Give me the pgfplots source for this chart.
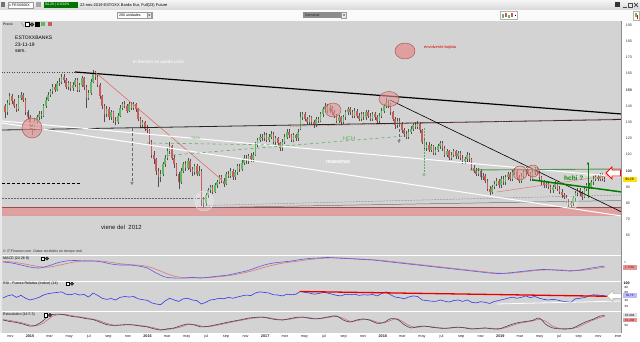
\documentclass[border=0pt]{standalone}
\usepackage{pgfplots}
\pgfplotsset{compat=1.18}
\usepackage{pgfplotstable}
\usepackage{fontspec}
\setmainfont{Liberation Sans}
\usetikzlibrary{arrows.meta}
\definecolor{panelbg}{RGB}{211,211,211}
\definecolor{upc}{RGB}{98,184,98}
\definecolor{dnc}{RGB}{200,92,92}
\definecolor{wick}{RGB}{80,80,80}
\definecolor{pinkband}{RGB}{222,160,160}
\definecolor{pinkc}{RGB}{226,150,150}
\definecolor{tgreen}{RGB}{90,175,90}
\definecolor{dgreen}{RGB}{0,125,0}
\definecolor{macdblue}{RGB}{90,90,230}
\definecolor{macdred}{RGB}{220,120,120}
\definecolor{rsiblue}{RGB}{55,55,235}
\definecolor{stk}{RGB}{70,60,100}
\definecolor{std}{RGB}{215,110,110}
\definecolor{redln}{RGB}{225,110,110}
\newcommand\PX[2]{(axis cs:{(#1-30)/2.2537},{190-(#2-25)/1.62})}
\newcommand\RX[2]{(axis cs:{(#1-30)/2.2537},{(311-#2)*100/29})}
\newcommand\fs[1]{\fontsize{#1}{#1}\selectfont}
\pgfplotstableread{
w o h l c
-11 140 141.5 132.5 136
-10 136 143.5 134.5 142
-9 142 148 140.5 146
-8 146 147.5 141.5 143
-7 143 144.5 138.5 140
-6 140 141.5 136 138
-5 138 146.5 137 145
-4 145 148.5 143.5 147
-3 147 148 142.5 144
-2 144 145 134.5 136
-1 136 137.5 131.5 133
0 133 134.5 126 128
1 128 129.5 122 126
2 126 132.5 124.5 131
3 131 134.5 129 133
4 133 137 131.5 135
5 135 137 132 134
6 134 141.5 133 140
7 140 145.5 139 144
8 144 148.5 143 147
9 147 150.5 145.5 149
10 149 153.5 147.5 152
11 152 153.5 148.5 150
12 150 155.5 149 154
13 154 157 152.5 155
14 155 160 153.5 158
15 158 159.5 154 156
16 156 157 150.5 152
17 152 155.5 150 154
18 154 155 149 151
19 151 155 149.5 153
20 153 157.5 152 156
21 156 157 148.5 150
22 150 154.5 148.5 153
23 153 158.5 152 157
24 157 158 150 152
25 152 153 139 145
26 145 150 143.5 148
27 148 156.5 147 155
28 155 162 154 160
29 160 161.5 156 158
30 158 159 151.5 153
31 153 154 144.5 146
32 146 147 138 140
33 140 141.5 130 135
34 135 140 133.5 138
35 138 139.5 131.5 133
36 133 137.5 131.5 136
37 136 137 129.5 131
38 131 133 128 130
39 130 135.5 129 134
40 134 140.5 133 139
41 139 142.5 137.5 141
42 141 143 138.5 140
43 140 141.5 135.5 137
44 137 142.5 136 141
45 141 142.5 137.5 139
46 139 142.5 137.5 141
47 141 142 136.5 138
48 138 139 130.5 132
49 132 133 126.5 128
50 128 131.5 126.5 130
51 130 131 124.5 126
52 126 128 123.5 125
53 125 126 116.5 118
54 118 119 108 110
55 110 112 104 107
56 107 108 97.5 100
57 100 101.5 90 96
58 96 100.5 93 98
59 98 105.5 96.5 104
60 104 109.5 102.5 108
61 108 114 106.5 112
62 112 118 110.5 115
63 115 116 106.5 108
64 108 109.5 102 104
65 104 105 96.5 98
66 98 99.5 89 93
67 93 101.5 92 100
68 100 105.5 98.5 104
69 104 106 100 102
70 102 108 100.5 106
71 106 107 99.5 101
72 101 102.5 97 99
73 99 104.5 97.5 103
74 103 104 96.5 98
75 98 103 96.5 100
76 100 101 78 82
77 82 84 77 80
78 80 86.5 78.5 85
79 85 89.5 83.5 88
80 88 91.5 86.5 90
81 90 91 85.5 87
82 87 92.5 86 91
83 91 94.5 89.5 93
84 93 97.5 92 96
85 96 97.5 92.5 94
86 94 95.5 90 92
87 92 99.5 91 98
88 98 100 95.5 97
89 97 101.5 95.5 100
90 100 101 94.5 96
91 96 100.5 94.5 99
92 99 104.5 97.5 103
93 103 104.5 99.5 101
94 101 106.5 100 105
95 105 109.5 103.5 108
96 108 109.5 104.5 106
97 106 110.5 104.5 109
98 109 111 105.5 107
99 107 111.5 105.5 110
100 110 117.5 109 116
101 116 120.5 114.5 119
102 119 122.5 117.5 121
103 121 123 118.5 120
104 120 124 118.5 122
105 122 123.5 117.5 119
106 119 122.5 117.5 121
107 121 124.5 119.5 123
108 123 124 116.5 118
109 118 121.5 116 120
110 120 121 115.5 117
111 117 118 112 114
112 114 119.5 112.5 118
113 118 122.5 116.5 121
114 121 125.5 119.5 124
115 124 125.5 120.5 122
116 122 123 117.5 119
117 119 123.5 117.5 122
118 122 123 118.5 120
119 120 125.5 118.5 124
120 126 136 125 133
121 133 136.5 131.5 135
122 135 136 130.5 132
123 132 133.5 128.5 130
124 130 134.5 128.5 133
125 133 134 128.5 130
126 130 131.5 126.5 128
127 128 133.5 127 132
128 132 133.5 129.5 131
129 131 136.5 130 135
130 135 139.5 133.5 138
131 138 142 136.5 140
132 140 141 135.5 137
133 137 140.5 135.5 139
134 139 140 134.5 136
135 136 137.5 132.5 134
136 134 135 129.5 131
137 131 134.5 129.5 133
138 133 134 128 130
139 130 134.5 129 133
140 133 137.5 131.5 136
141 136 139.5 134.5 138
142 138 139.5 134.5 136
143 136 137.5 132.5 134
144 134 138.5 132.5 137
145 137 138 132.5 134
146 134 135.5 130.5 132
147 132 136.5 130.5 135
148 135 136.5 131.5 133
149 133 137.5 131.5 136
150 136 137.5 132.5 134
151 134 135.5 130.5 132
152 132 136.5 130.5 135
153 135 136.5 131.5 133
154 133 134.5 129 131
155 131 135.5 129.5 134
156 134 138.5 132.5 137
157 137 141.5 135.5 140
158 140 145 138.5 142
159 142 144 139 141
160 141 142 134.5 136
161 136 137 130.5 132
162 132 133 126 128
163 128 132.5 126.5 131
164 131 132.5 127.5 129
165 129 130 123.5 125
166 125 126.5 121 123
167 123 124.5 119.5 121
168 121 125.5 119.5 124
169 124 127.5 122.5 126
170 126 129.5 124.5 128
171 128 130 125.5 127
172 127 130.5 125.5 129
173 129 130 123.5 125
174 125 126 116.5 118
175 118 119.5 112 114
176 114 118 112.5 116
177 116 117.5 111.5 113
178 113 116.5 111.5 115
179 115 116 109.5 111
180 111 114.5 109.5 113
181 113 116.5 111.5 115
182 115 118.5 113.5 117
183 117 118.5 112.5 114
184 114 115 108.5 110
185 110 113.5 108.5 112
186 112 113 106.5 108
187 108 111.5 106.5 110
188 110 113.5 108.5 112
189 112 113 107.5 109
190 109 112.5 107.5 111
191 111 112 106.5 108
192 108 109.5 104.5 106
193 106 108.5 104.5 107
194 107 111.5 105.5 110
195 110 111 105.5 107
196 107 108 100.5 102
197 102 103.5 98.5 100
198 100 101.5 96.5 98
199 98 101.5 96.5 100
200 100 101 94.5 96
201 96 98.5 94.5 97
202 97 98 92.5 94
203 94 95 87.5 89
204 89 90.5 85 87
205 87 91.5 85.5 90
206 90 93.5 88.5 92
207 92 95.5 90.5 94
208 94 95 89.5 91
209 91 96.5 89.5 95
210 95 96.5 91.5 93
211 93 97.5 91.5 96
212 96 99.5 94.5 98
213 98 99 93.5 95
214 95 100.5 93.5 99
215 99 101.5 97.5 100
216 100 101 94.5 96
217 96 97.5 92.5 94
218 94 98.5 92.5 97
219 97 100.5 95.5 99
220 99 102.5 97.5 101
221 101 102 96.5 98
222 98 99 93.5 95
223 95 100.5 93.5 99
224 99 102.5 97.5 101
225 101 102.5 97.5 99
226 99 100 94.5 96
227 96 97 91.5 93
228 93 94.5 89.5 91
229 91 93.5 89.5 92
230 92 93.5 88.5 90
231 90 91.5 86.5 88
232 88 91.5 86.5 90
233 90 93.5 88.5 92
234 92 93 87.5 89
235 89 90.5 85.5 87
236 87 88.5 83.5 85
237 85 86.5 82.5 84
238 84 85 79.5 81
239 81 82.5 77 79
240 79 81.5 77.5 80
241 80 84.5 78.5 83
242 83 87.5 81.5 86
243 86 89.5 84.5 88
244 88 89.5 84.5 86
245 86 87.5 82 84
246 84 90.5 83 89
247 89 92.5 87.5 91
248 91 92.5 88.5 90
249 90 94.5 88.5 93
250 93 96.5 91.5 95
251 95 97.5 93.5 96
252 96 97.5 93.5 95
253 95 98.5 93.5 97
254 97 98.5 93.5 95
255 95 96 93.2 94.28
}\candles
\pgfplotstableread{
w m s
-12 4.8 5.2
-8 4.2 4.8
-4 3.0 4.0
0 1.8 3.0
4 1.2 2.0
8 2.4 1.7
12 4.2 2.6
16 5.4 3.8
20 5.7 4.9
24 5.4 5.4
28 5.4 5.5
32 4.8 5.3
36 3.6 4.6
40 3.0 3.8
44 3.0 3.3
48 2.4 2.9
52 1.2 2.2
56 -1.8 0.4
60 -4.2 -1.8
64 -4.8 -3.7
68 -4.9 -4.5
72 -4.5 -4.7
76 -4.8 -4.6
80 -4.2 -4.5
84 -3.6 -4.0
88 -3.0 -3.4
92 -1.8 -2.5
96 -0.6 -1.4
100 1.2 0.0
104 3.0 1.6
108 4.2 3.0
112 4.8 4.1
116 5.4 4.8
120 6.3 5.5
124 6.9 6.3
128 7.2 6.8
132 7.5 7.2
136 7.2 7.3
140 6.9 7.1
144 6.6 6.8
148 6.3 6.5
152 6.0 6.2
156 5.4 5.8
160 4.8 5.2
164 4.2 4.6
168 3.6 4.0
172 3.0 3.4
176 2.4 2.8
180 1.8 2.2
184 1.2 1.6
188 0.6 1.0
192 0.0 0.4
196 -0.6 -0.2
200 -1.2 -0.8
204 -1.8 -1.4
208 -2.1 -1.9
212 -1.8 -2.0
216 -1.2 -1.6
220 -0.6 -1.0
224 0.0 -0.4
228 0.3 0.0
232 0.0 0.2
236 -0.3 0.0
240 -0.6 -0.3
244 0.0 -0.3
248 0.9 0.3
252 1.8 1.1
255 2.4 1.6
}\macd
\pgfplotstableread{
w r
-12 45
-10 52
-8 56
-6 47
-4 54
-2 44
0 38
2 42
4 47
6 55
8 60
10 62
12 64
14 66
16 58
18 56
20 60
22 55
24 57
26 48
28 62
30 54
32 44
34 40
36 43
38 38
40 47
42 50
44 48
46 50
48 42
50 39
52 37
54 28
56 24
58 22
60 35
62 44
64 38
66 33
68 42
70 44
72 38
74 36
76 24
78 30
80 38
82 40
84 44
86 42
88 47
90 44
92 48
94 52
96 55
98 53
100 62
102 66
104 64
106 62
108 56
110 55
112 52
114 58
116 56
118 58
120 68
122 64
124 62
126 58
128 60
130 64
132 62
134 58
136 54
138 52
140 58
142 56
144 58
146 54
148 56
150 55
152 57
154 52
156 60
158 66
160 56
162 48
164 46
166 42
168 48
170 52
172 50
174 38
176 36
178 34
180 33
182 38
184 34
186 31
188 36
190 38
192 33
194 38
196 30
198 28
200 32
202 30
204 26
206 33
208 36
210 40
212 44
214 48
216 44
218 47
220 52
222 46
224 50
226 44
228 40
230 38
232 40
234 38
236 34
238 32
240 30
242 42
244 44
246 46
248 52
250 56
252 55
254 53
255 54
}\rsi
\pgfplotstableread{
w k d
-12 62 64
-9 55 60
-6 50 54
-3 42 47
0 33 38
2 35 34
4 45 38
6 60 48
8 80 64
10 88 80
13 90 88
16 85 88
19 78 82
22 75 77
25 68 72
28 64 66
31 52 58
34 40 46
37 36 38
40 38 37
43 40 39
46 38 39
49 33 36
52 29 31
55 20 25
58 14 17
61 20 17
64 24 22
67 35 29
70 43 40
73 38 41
76 29 33
79 32 30
82 38 35
85 45 41
88 52 48
91 58 55
94 64 61
97 71 67
100 74 72
103 76 75
106 70 73
109 64 67
112 62 63
115 68 65
118 74 71
121 76 75
124 70 73
127 67 68
130 72 70
133 78 75
136 81 79
139 62 70
142 52 56
145 62 58
148 67 65
151 60 63
154 46 52
157 50 48
160 68 60
163 65 68
166 40 50
169 24 32
172 30 27
175 33 32
178 28 30
181 24 26
184 22 23
187 25 24
190 28 27
193 24 26
196 19 21
199 22 20
202 24 23
205 20 22
208 19 20
211 30 25
214 42 36
217 50 46
220 55 52
223 60 57
226 71 65
229 40 55
232 24 32
235 20 22
238 19 20
241 24 22
244 40 32
247 55 48
250 66 62
253 81 74
255 82 81
}\stoch
\pgfplotsset{panel/.style={anchor=south west, scale only axis, width=619.7bp,
  xmin=-12.42, xmax=262.55, axis background/.style={fill=panelbg},
  axis line style={draw=none}, xtick=\empty, ytick=\empty, tick style={draw=none}}}
\begin{document}
\begin{tikzpicture}
\useasboundingbox (0,0) rectangle (640bp,342bp);
% ---------- window chrome
\begin{scope}[x=1bp,y=-1bp,yshift=342bp]
\fill[white] (0,0) rectangle (640,342);
\shade[top color=black!4, bottom color=black!16] (0,0) rectangle (640,10.5);
\fill[black!2] (0,10.5) rectangle (640,21);
\fill[black!9] (0,21) rectangle (2,333);
\fill[black!55] (1.5,2.5) rectangle (5.5,7.5);
\draw[black!40, fill=white, line width=0.3bp] (8,2) rectangle (33,8);
\node[anchor=west, inner sep=0, font=\fs{3.6}] at (9,5) {x FESX600X};
\fill[black!35] (36,2.5) rectangle (41,7.5);
\fill[green!45!black] (44,2) rectangle (78,8);
\node[anchor=west, inner sep=0, font=\fs{3.6}, text=white] at (45,5) {94.28 | 0.034\%};
\node[anchor=west, inner sep=0, font=\fs{4}] at (80,5) {22-nov-2019 ESTOXX Banks Eur, Full(23) Future};
\fill[black!80] (614.5,2.5) rectangle (620,7.5);
\draw[black!70, line width=0.6bp] (623,7) -- (626.5,7);
\draw[black!70, line width=0.5bp] (628.5,3) rectangle (632,7);
\draw[black!80, line width=0.7bp] (634,3) -- (638,7) (634,7) -- (638,3);
\draw[black!40, fill=white, line width=0.3bp] (117,12) rectangle (152,18.5);
\node[anchor=west, inner sep=0, font=\fs{3.6}] at (119,15.3) {200 unidades};
\draw[black!40, fill=black!8, line width=0.3bp] (147,12.6) rectangle (151.5,18);
\fill[black!60] (148,14.5) -- (150.5,14.5) -- (149.25,16.3) -- cycle;
\fill[black!45] (303,12) rectangle (347,18.5);
\node[anchor=west, inner sep=0, font=\fs{3.6}, text=black!85] at (305,15.3) {Semanal};
\draw[black!40, fill=black!8, line width=0.3bp] (341.5,12.6) rectangle (346.5,18);
\fill[black!60] (342.8,14.5) -- (345.3,14.5) -- (344.05,16.3) -- cycle;
\draw[black!30, fill=white, line width=0.3bp] (500,11.5) rectangle (517,19.5);
\fill[upc] (502,14) rectangle (503.5,18);
\fill[dnc] (505,13) rectangle (506.5,17);
\fill[upc] (508,15) rectangle (509.5,18.5);
\fill[dnc] (511,13.5) rectangle (512.5,17.5);
\fill[black] (514.5,15) rectangle (515.5,16);
\draw[black!30, fill=white, line width=0.3bp] (633,11) rectangle (639.5,20);
\fill[upc] (635,13) rectangle (636.5,17);
\fill[red] (637,15) rectangle (638.3,19);
\end{scope}
% ---------- main price panel
\begin{axis}[panel, at={(2bp,87bp)}, height=234bp, ymin=48.02, ymax=192.47,
  ytick={60,70,80,90,100,110,120,130,140,150,160,170,180,190},
  yticklabels={60,70,80,90,\textbf{100},110,120,130,140,\textbf{150},160,170,180,190},
  yticklabel pos=right,
  yticklabel style={font=\fs{3.6}, inner sep=0.5bp, xshift=3.5bp, text=black!80}]
\fill[pinkband] \PX{2}{207} rectangle \PX{621.7}{215.5};
\draw[dnc!80!black, line width=0.5bp] \PX{2}{207.3} -- \PX{621.7}{207.3};
\draw[dnc!60, line width=0.4bp] \PX{2}{215.3} -- \PX{621.7}{215.3};
\draw[black!70, dotted, line width=0.5bp] \PX{2}{72.5} -- \PX{77}{72.5};
\draw[black, densely dashed, line width=0.5bp] \PX{2}{183} -- \PX{80}{183};
\draw[black!60, densely dotted, line width=0.5bp] \PX{2}{198} -- \PX{205}{198};
\draw[black!60, densely dotted, line width=0.5bp] \PX{205}{205.5} -- \PX{621.7}{195};
\draw[black!55, line width=0.5bp] \PX{205}{207.6} -- \PX{621.7}{200.5};
\addplot[wick, forget plot, draw=none, mark=none,
  error bars/.cd, y dir=plus, y explicit, error mark=none,
  error bar style={draw=wick, line width=0.45bp, solid}]
  table[x=w, y=l, y error expr={\thisrow{h}-\thisrow{l}}] {\candles};
\addplot[upc, forget plot, draw=none, mark=none,
  restrict expr to domain={\thisrow{c}-\thisrow{o}}{0:1000},
  error bars/.cd, y dir=plus, y explicit, error mark=none,
  error bar style={draw=upc, line width=1.5bp, solid}]
  table[x=w, y=o, y error expr={\thisrow{c}-\thisrow{o}}] {\candles};
\addplot[dnc, forget plot, draw=none, mark=none,
  restrict expr to domain={\thisrow{o}-\thisrow{c}}{0.001:1000},
  error bars/.cd, y dir=plus, y explicit, error mark=none,
  error bar style={draw=dnc, line width=1.5bp, solid}]
  table[x=w, y=c, y error expr={\thisrow{o}-\thisrow{c}}] {\candles};
% trend lines
\draw[black, line width=1.2bp] \PX{75}{72} -- \PX{621.7}{114};
\draw[redln, line width=0.6bp] \PX{95}{72} -- \PX{222}{180};
\draw[black!85, line width=0.8bp] \PX{2}{130} -- \PX{621.7}{119.5};
\draw[dnc, densely dotted, line width=0.6bp] \PX{290}{126.4} -- \PX{621.7}{118.7};
\draw[white, line width=1bp] \PX{2}{121} -- \PX{621.7}{177};
\draw[white, line width=1bp] \PX{2}{123} -- \PX{621.7}{216};
\draw[tgreen, dashed, line width=0.6bp] \PX{147}{143} -- \PX{282}{145};
\draw[tgreen, dashed, line width=0.6bp] \PX{167}{155.5} -- \PX{405}{136};
\draw[black!60, densely dashed, line width=0.4bp, -{Triangle[open,length=3bp,width=3bp]}] \PX{132}{128} -- \PX{132}{185};
\draw[black!60, densely dashed, line width=0.4bp, -{Triangle[open,length=3bp,width=3bp]}] \PX{399}{124} -- \PX{399}{143};
\draw[tgreen, densely dotted, line width=0.5bp] \PX{424}{128} -- \PX{424}{172};
\draw[tgreen, line width=0.4bp] \PX{424}{174.5} circle[radius=1.3bp];
\draw[black, line width=0.6bp] \PX{390}{100} -- \PX{621.7}{212};
\draw[tgreen!85!black, line width=0.9bp] \PX{470}{170} -- \PX{621.7}{169};
\draw[pinkc!80!red, line width=0.5bp] \PX{497}{192} -- \PX{612}{175};
\draw[white!75!pink, line width=0.6bp] \PX{575}{177} -- \PX{621.7}{172};
\draw[dgreen, line width=1.5bp] \PX{533}{180} -- \PX{621.7}{192};
\draw[green!50!black, line width=0.5bp, -{Triangle[length=2.5bp,width=2.5bp]}] \PX{588}{198} -- \PX{588}{162};
\draw[red, fill=white, line width=0.8bp] \PX{606}{173} -- \PX{612}{167} -- \PX{612}{170} -- \PX{620.5}{170} -- \PX{620.5}{176} -- \PX{612}{176} -- \PX{612}{179} -- cycle;
% circles
\draw[dnc!80!black, fill=pinkc, fill opacity=0.7, line width=0.4bp] \PX{32}{128} circle[radius=10bp];
\draw[dnc!80!black, fill=pinkc, fill opacity=0.85, line width=0.4bp] \PX{405}{51} ellipse[x radius=10bp, y radius=8bp];
\draw[dnc!80!black, fill=pinkc, fill opacity=0.6, line width=0.4bp] \PX{333}{110} ellipse[x radius=8bp, y radius=7bp];
\draw[dnc!80!black, fill=pinkc, fill opacity=0.6, line width=0.4bp] \PX{389}{99} ellipse[x radius=10bp, y radius=7.5bp];
\draw[dnc!80!black, fill=pinkc, fill opacity=0.55, line width=0.4bp] \PX{520}{173} circle[radius=7bp];
\draw[dnc!80!black, fill=pinkc, fill opacity=0.55, line width=0.4bp] \PX{533}{171} circle[radius=6bp];
\draw[white!85!black, fill=white, fill opacity=0.25, line width=0.6bp] \PX{204}{201} circle[radius=10bp];
\draw[white!85!black, fill=white, fill opacity=0.25, line width=0.6bp] \PX{572}{202} ellipse[x radius=6bp, y radius=7bp];
\end{axis}
% ---------- MACD
\begin{axis}[panel, at={(2bp,61bp)}, height=25bp, ymin=-6.6, ymax=8.4]
\addplot[macdred, line width=0.6bp, smooth] table[x=w, y=s] {\macd};
\addplot[macdblue, line width=0.6bp, smooth] table[x=w, y=m] {\macd};
\end{axis}
% ---------- RSI
\begin{axis}[panel, at={(2bp,31bp)}, height=29bp, ymin=0, ymax=100]
\addplot[rsiblue, line width=0.6bp] table[x=w, y=r] {\rsi};
\draw[red!90!black, line width=1.3bp] \RX{300}{291.5} -- \RX{621.7}{296.5};
\draw[white, line width=0.8bp] \RX{497}{304} -- \RX{621.7}{301};
\draw[black!30, fill=white, line width=0.5bp] \RX{607}{296} -- \RX{613}{290.5} -- \RX{613}{293.5} -- \RX{621.5}{293.5} -- \RX{621.5}{298.5} -- \RX{613}{298.5} -- \RX{613}{301.5} -- cycle;
\end{axis}
% ---------- Stochastic
\begin{axis}[panel, at={(2bp,9bp)}, height=21bp, ymin=0, ymax=100,
  xtick={-8.70,0,8.70,17.39,26.09,34.79,43.48,52.18,60.88,69.57,78.27,86.97,95.66,104.36,113.06,121.75,130.45,139.15,147.84,156.54,165.24,173.93,182.63,191.33,200.02,208.72,217.42,226.11,234.81,243.51,252.20,260.90},
  xticklabels={nov,\textbf{2015},mar,may,jul,sep,nov,\textbf{2016},mar,may,jul,sep,nov,\textbf{2017},mar,may,jul,sep,nov,\textbf{2018},mar,may,jul,sep,nov,\textbf{2019},mar,may,jul,sep,nov,ene},
  xticklabel style={font=\fs{3.8}, inner sep=0.5bp, yshift=-1.3bp, text=black!85}]
\addplot[std, line width=0.6bp, smooth] table[x=w, y=d] {\stoch};
\addplot[stk, line width=0.6bp, smooth] table[x=w, y=k] {\stoch};
\end{axis}
% ---------- texts and labels
\begin{scope}[x=1bp,y=-1bp,yshift=342bp]
\draw[white, line width=0.8bp] (2,255.6) -- (621.7,255.6) (2,281.5) -- (621.7,281.5) (2,311.5) -- (621.7,311.5);
\draw[black!45, line width=0.5bp] (621.7,21) -- (621.7,333);
\node[anchor=west, inner sep=0, font=\fs{3.4}] at (3,24.5) {Precio};
\draw[black!60, line width=0.3bp] (21,22.5) -- (24,26.5);
\draw[black, fill=white, line width=0.3bp] (25.5,22.5) rectangle (29,26.5);
\draw[black, fill=black!70, line width=0.3bp] (32,24.5) circle[radius=1.8];
\draw[black, fill=black, line width=0.3bp] (35.5,22.5) rectangle (39,26.5);
\fill[upc] (41,22.5) rectangle (45,26.5);
\fill[dnc] (48,22.5) rectangle (52,26.5);
\node[anchor=west, inner sep=0, font=\fs{5}] at (15,38) {ESTOXXBANKS};
\node[anchor=west, inner sep=0, font=\fs{5}] at (15,44.5) {23-11-19};
\node[anchor=west, inner sep=0, font=\fs{5}] at (15,51) {sem.};
\node[anchor=west, inner sep=0, font=\fs{4.5}, text=white] at (133,62) {el Bamian se queda corto};
\node[anchor=west, inner sep=0, font=\fs{4}, text=red!85!black] at (424,47.5) {envolvente bajista};
\node[anchor=west, inner sep=0, font=\fs{3.5}, text=tgreen] at (191,138.5) {TAZA};
\node[anchor=west, inner sep=0, font=\fs{5.5}, text=tgreen] at (343,139) {HCH};
\node[anchor=west, inner sep=0, font=\bfseries\fs{5.5}, text=white] at (326,162) {maestras};
\node[anchor=west, inner sep=0, font=\bfseries\fs{6.5}, text=green!55!black] at (564,178) {hchi ?};
\node[anchor=west, inner sep=0, font=\fs{6}, text=black!90] at (101,227) {viene del\ \ 2012};
\node[anchor=west, inner sep=0, font=\itshape\fs{3.6}, text=black!80] at (3,252) {\textcopyright\ IT-Finance.com\ \ Datos recibidos en tiempo real};
\node[anchor=west, inner sep=0, font=\fs{3.6}] at (3,258.7) {MACD (24 26 9)};
\node[anchor=west, inner sep=0, font=\fs{3.6}] at (3,284) {RSI - Fuerza Relativa (Indice) (14)};
\node[anchor=west, inner sep=0, font=\fs{3.6}] at (3,315) {Estoc\'astico (14 5 3)};
\draw[black, fill=white, line width=0.3bp] (41.5,256.8) rectangle (44.5,260.3);
\draw[black, fill=black!70, line width=0.3bp] (47,258.5) circle[radius=1.6];
\draw[black, fill=white, line width=0.3bp] (66,282) rectangle (69,285.5);
\draw[black, fill=black!70, line width=0.3bp] (72,283.8) circle[radius=1.6];
\draw[black, fill=white, line width=0.3bp] (44,313.2) rectangle (47,316.7);
\draw[black, fill=black!70, line width=0.3bp] (50,315) circle[radius=1.6];
% price box
\fill[yellow!85!orange] (622.5,176.8) rectangle (636.5,182.2);
\node[inner sep=0, font=\fs{3.4}] at (629.5,179.6) {94.28};
% macd labels
\node[anchor=west, inner sep=0, font=\fs{3}, text=black!60] at (624,262.5) {0};
\fill[pinkc] (622.5,264.8) rectangle (637,269.6);
\node[inner sep=0, font=\fs{3}, text=red!60!black] at (629.8,267.3) {1.7562};
% rsi labels
\node[anchor=west, inner sep=0, font=\bfseries\fs{3.6}] at (623.5,283.6) {100};
\node[anchor=west, inner sep=0, font=\fs{3}] at (624.5,287.8) {80};
\node[anchor=west, inner sep=0, font=\fs{3}] at (624.5,292) {60};
\fill[macdblue!40!white] (622.5,293.3) rectangle (637,298);
\node[inner sep=0, font=\fs{3}, text=blue!70!black] at (629.8,295.7) {56.75};
\node[anchor=west, inner sep=0, font=\fs{3}] at (624.5,300.5) {40};
\node[anchor=west, inner sep=0, font=\fs{3}] at (624.5,306) {20};
% stoch labels
\fill[black!12] (622.5,313) rectangle (637,317.5);
\node[inner sep=0, font=\fs{3}] at (629.8,315.3) {81.994};
\fill[pinkc] (622.5,318) rectangle (637,322.5);
\node[inner sep=0, font=\fs{3}, text=red!60!black] at (629.8,320.3) {81.208};
\node[anchor=west, inner sep=0, font=\fs{3}] at (624.5,325) {50};
\end{scope}
\end{tikzpicture}
\end{document}
